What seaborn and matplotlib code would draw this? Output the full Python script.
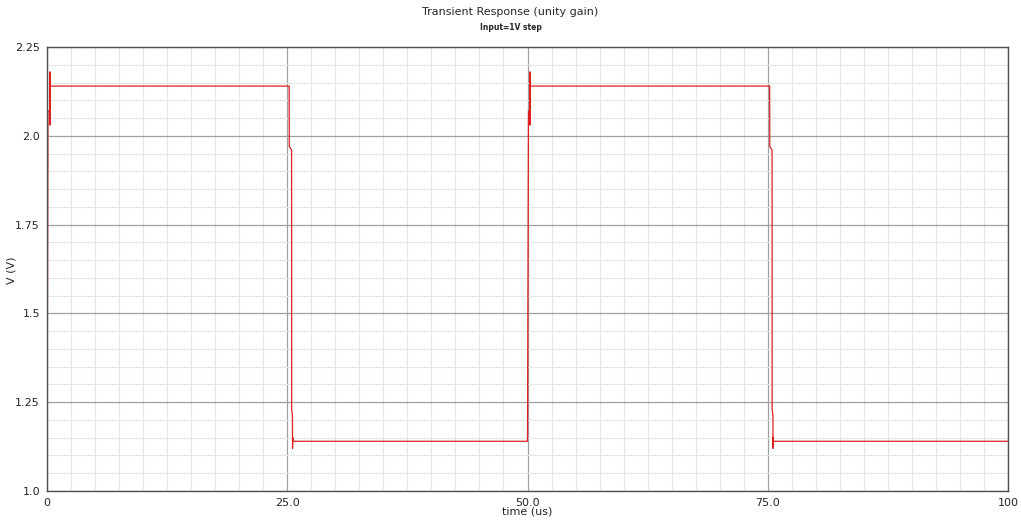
import matplotlib
matplotlib.use("Agg")
import matplotlib.pyplot as plt
from matplotlib.ticker import MultipleLocator, FixedLocator, FixedFormatter
import seaborn as sns
import pandas as pd

# Output voltage of the unity-gain buffer driven by a 1 V square wave
time_us = [0.0, 0.05, 0.10, 0.28, 0.30, 0.32, 0.35,
           25.20, 25.21, 25.45, 25.46, 25.54, 25.55, 25.57, 25.60,
           50.0, 50.05, 50.10, 50.23, 50.25, 50.27, 50.30,
           75.20, 75.21, 75.45, 75.46, 75.54, 75.55, 75.57, 75.60,
           100.0]
vout = [1.14, 1.55, 2.07, 2.07, 2.18, 2.03, 2.14,
        2.14, 1.97, 1.96, 1.23, 1.21, 1.12, 1.15, 1.14,
        1.14, 1.60, 2.07, 2.07, 2.18, 2.03, 2.14,
        2.14, 1.97, 1.96, 1.23, 1.21, 1.12, 1.15, 1.14,
        1.14]

x_ticks = [0, 25, 50, 75, 100]
x_tick_labels = ["0", "25.0", "50.0", "75.0", "100"]
y_ticks = [1.0, 1.25, 1.5, 1.75, 2.0, 2.25]
y_tick_labels = ["1.0", "1.25", "1.5", "1.75", "2.0", "2.25"]

df = pd.DataFrame({"time": time_us, "vout": vout})

sns.set_style("white")
plt.rcParams["font.family"] = ["DejaVu Sans"]

fig = plt.figure(figsize=(10.21, 5.23), dpi=100)
ax = fig.add_axes([47 / 1021, 1 - 491 / 523, 961 / 1021, 444 / 523])

sns.lineplot(data=df, x="time", y="vout", ax=ax, color="#dd2020",
             linewidth=0.9, estimator=None, sort=False)

ax.set_xlim(0, 100)
ax.set_ylim(1.0, 2.25)
ax.xaxis.set_major_locator(FixedLocator(x_ticks))
ax.xaxis.set_major_formatter(FixedFormatter(x_tick_labels))
ax.yaxis.set_major_locator(FixedLocator(y_ticks))
ax.yaxis.set_major_formatter(FixedFormatter(y_tick_labels))
ax.xaxis.set_minor_locator(MultipleLocator(2.5))
ax.yaxis.set_minor_locator(MultipleLocator(0.05))

ax.grid(which="major", color="#a0a0a0", linewidth=0.9)
ax.grid(which="minor", color="#e6e6e6", linewidth=0.8)
ax.set_axisbelow(True)

for s in ax.spines.values():
    s.set_color("#505050")
    s.set_linewidth(1.0)

ax.tick_params(which="major", direction="out", length=4, width=0.8,
               color="#505050", labelsize=8, pad=1)
ax.tick_params(which="minor", direction="out", length=2.5, width=0.6,
               color="#505050")

ax.set_xlabel("time (us)", fontsize=8, labelpad=-1)
ax.set_ylabel("")
fig.text(12 / 1021, 1 - 270 / 523, "V (V)", rotation=90, ha="center",
         va="center", fontsize=8)

fig.text(0.5, 1 - 12 / 523, "Transient Response (unity gain)", ha="center",
         va="center", fontsize=8)
fig.text(0.5, 1 - 28 / 523, "Input=1V step", ha="center", va="center",
         fontsize=5.5, fontweight="bold")

fig.savefig("out.png", dpi=100)
